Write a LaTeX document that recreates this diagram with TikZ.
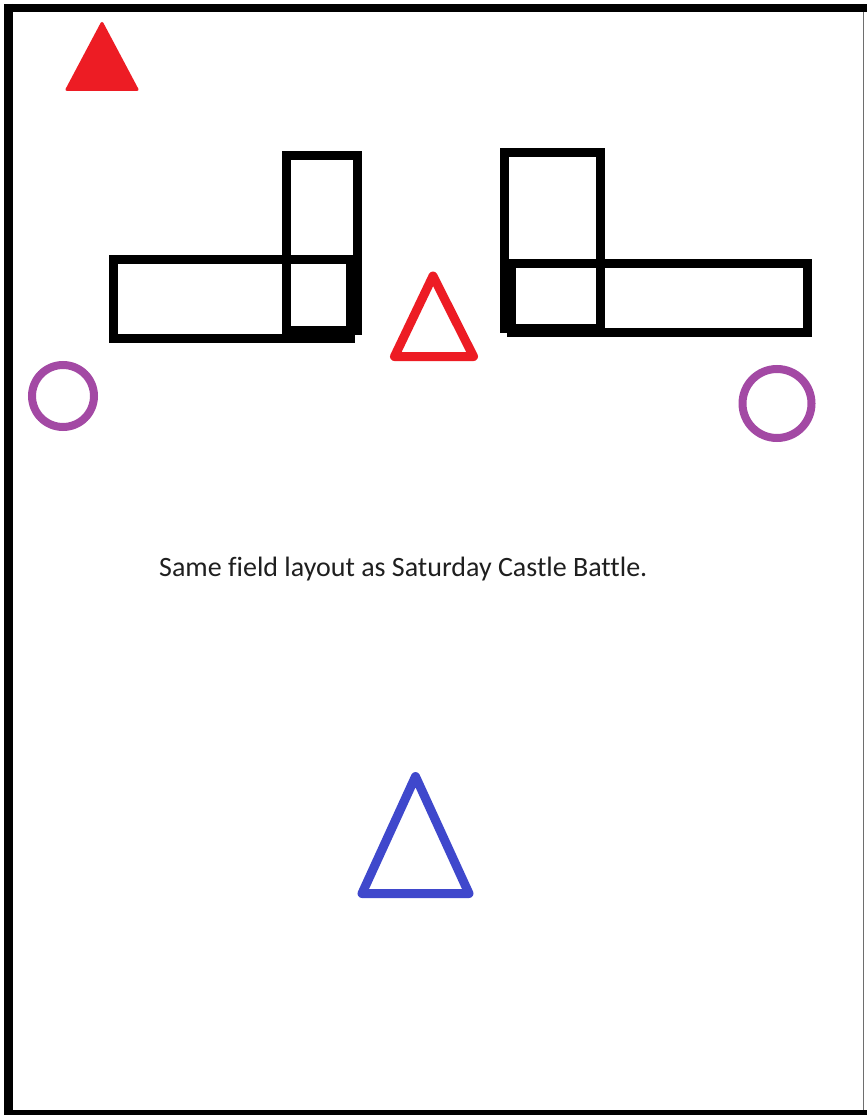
\documentclass[tikz,border=0pt]{standalone}
\usepackage{fontspec}
\setmainfont[Ligatures={NoCommon}]{Carlito}
\definecolor{paintred}{RGB}{237,28,36}
\definecolor{paintblue}{RGB}{63,72,204}
\definecolor{paintpurple}{RGB}{163,73,164}
\definecolor{framegray}{RGB}{110,110,110}
\tikzset{
  wall/.style={draw=black, line width=9pt, line join=miter},
  marker/.style={line width=9pt, line join=round},
  ring/.style={draw=paintpurple, line width=8pt},
}
\begin{document}
\begin{tikzpicture}[x=1pt,y=-1pt]
\useasboundingbox (0,0) rectangle (867,1115);
\fill[white] (0,0) rectangle (867,1115);
% frame
\draw[framegray, line width=1.5pt] (863.5,4) -- (863.5,1112);
\draw[black, line width=8pt] (4,8) -- (867,8);
\draw[black, line width=9pt] (8.5,4) -- (8.5,1115);
\draw[black, line width=5.5pt] (4,1112.5) -- (867,1112.5);
% filled red triangle
\filldraw[paintred, line width=3pt, line join=round] (102,23.5) -- (137,89.5) -- (67,89.5) -- cycle;
% left L structure
\draw[wall] (113.5,259.5) rectangle (350.5,338.5);
\draw[wall] (286.5,155.5) rectangle (357.5,330.5);
% right L structure
\draw[wall] (504.5,152.5) rectangle (600.5,328.5);
\draw[wall] (511.5,263) rectangle (807.5,332.5);
% hollow red triangle
\draw[marker, paintred] (433,276) -- (473.5,356.5) -- (394.5,356.5) -- cycle;
% purple rings
\draw[ring] (63,396) circle (31);
\draw[ring] (777,403.5) circle (34.5);
% caption
\node[anchor=base west, inner sep=0pt, font=\fontsize{28}{32}\selectfont, text=black!88] (caption) at (159,576) {Same field layout as Saturday Castle Battle.};
% blue triangle
\draw[marker, paintblue] (415.5,776.5) -- (469,893.5) -- (362,893.5) -- cycle;
\end{tikzpicture}
\end{document}
